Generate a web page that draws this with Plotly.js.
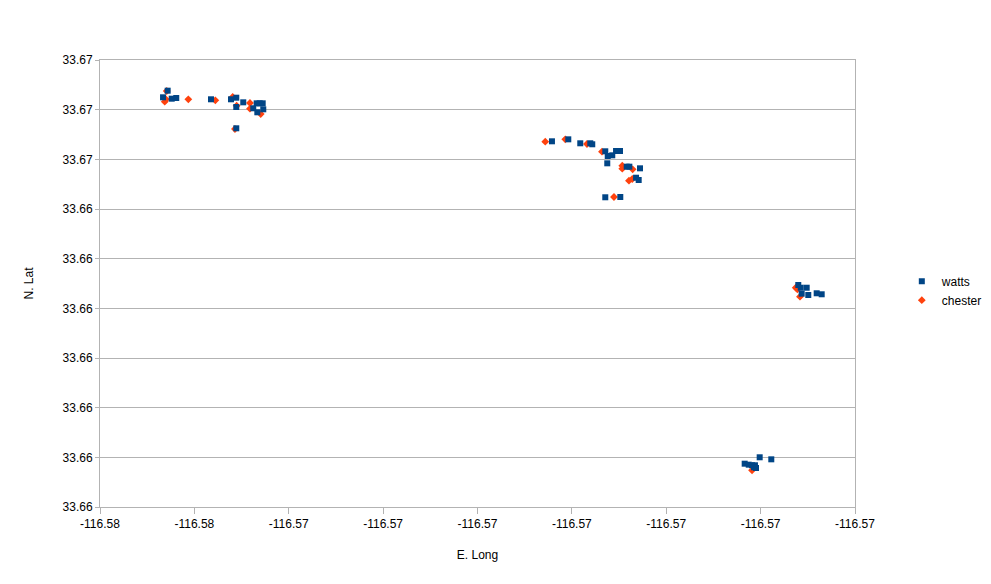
<!DOCTYPE html>
<html>
<head>
<meta charset="utf-8">
<script src="https://cdn.plot.ly/plotly-3.0.1.min.js"></script>
<style>html,body{margin:0;padding:0;background:#fff;}#chart{width:991px;height:584px;}</style>
</head>
<body>
<div id="chart"></div>
<script>
var seriesNames = ["watts", "chester"];

var wattsLong = [
  -116.575283, -116.575332, -116.575240, -116.575192, -116.574824, -116.574612,
  -116.574556, -116.574482, -116.574556, -116.574340, -116.574308, -116.574276,
  -116.574376, -116.574333, -116.574270, -116.574556,
  -116.571211, -116.571038, -116.570911, -116.570805, -116.570784, -116.570646,
  -116.570620, -116.570572, -116.570532, -116.570490, -116.570625, -116.570419,
  -116.570391, -116.570278, -116.570320, -116.570292, -116.570646, -116.570487,
  -116.568601, -116.568575, -116.568512, -116.568565, -116.568495, -116.568406,
  -116.568353,
  -116.569169, -116.569126, -116.569091, -116.569060, -116.569049, -116.569070,
  -116.569010, -116.568887
];
var wattsLat = [
  33.666382, 33.666249, 33.666221, 33.666235, 33.666209, 33.666209,
  33.666241, 33.666148, 33.666054, 33.666128, 33.666128, 33.666128,
  33.666028, 33.665947, 33.666007, 33.665625,
  33.665363, 33.665403, 33.665323, 33.665323, 33.665303, 33.665162,
  33.665067, 33.665081, 33.665168, 33.665168, 33.664920, 33.664852,
  33.664852, 33.664819, 33.664630, 33.664584, 33.664236, 33.664242,
  33.662470, 33.662415, 33.662415, 33.662295, 33.662268, 33.662303,
  33.662283,
  33.658872, 33.658852, 33.658840, 33.658840, 33.658785, 33.658799,
  33.659001, 33.658960
];

var chesterLong = [
  -116.575293, -116.575314, -116.575301, -116.575064, -116.574778, -116.574594,
  -116.574552, -116.574411, -116.574411, -116.574297, -116.574570,
  -116.571282, -116.571070, -116.570840, -116.570681, -116.570466, -116.570466,
  -116.570356, -116.570395, -116.570360, -116.570554,
  -116.568628, -116.568611, -116.568583,
  -116.569091
];
var chesterLat = [
  33.666376, 33.666160, 33.666209, 33.666209, 33.666189, 33.666255,
  33.666080, 33.666134, 33.666019, 33.665913, 33.665611,
  33.665355, 33.665403, 33.665309, 33.665154, 33.664872, 33.664811,
  33.664799, 33.664570, 33.664604, 33.664242,
  33.662415, 33.662383, 33.662234,
  33.658739
];

var xTickVals = [-116.576, -116.575, -116.574, -116.573, -116.572, -116.571, -116.570, -116.569, -116.568];
var xTickText = ["-116.58", "-116.58", "-116.57", "-116.57", "-116.57", "-116.57", "-116.57", "-116.57", "-116.57"];
var yTickVals = [33.658, 33.659, 33.660, 33.661, 33.662, 33.663, 33.664, 33.665, 33.666, 33.667];
var yTickText = ["33.66", "33.66", "33.66", "33.66", "33.66", "33.66", "33.66", "33.67", "33.67", "33.67"];

var traces = [
  {
    type: "scatter", mode: "markers", name: seriesNames[1],
    x: chesterLong, y: chesterLat,
    marker: {symbol: "diamond", size: 6, color: "#ff420e", line: {width: 0}}
  },
  {
    type: "scatter", mode: "markers", name: seriesNames[0],
    x: wattsLong, y: wattsLat,
    marker: {symbol: "square", size: 6, color: "#004586", line: {width: 0}}
  }
];

var axisFont = {family: "Liberation Sans, Arial, sans-serif", size: 12, color: "#000"};

var layout = {
  width: 991, height: 584,
  margin: {l: 100, r: 136, t: 60, b: 77, autoexpand: false},
  paper_bgcolor: "#fff", plot_bgcolor: "#fff",
  font: axisFont,
  showlegend: true,
  legend: {
    x: 1.062, xanchor: "left", y: 0.484, yanchor: "middle",
    traceorder: "reversed", itemwidth: 30,
    font: axisFont, bgcolor: "rgba(0,0,0,0)", tracegroupgap: 0
  },
  xaxis: {
    range: [-116.576, -116.568],
    tickvals: xTickVals, ticktext: xTickText,
    showgrid: false, zeroline: false,
    showline: true, mirror: true, linecolor: "#b3b3b3", linewidth: 1,
    ticks: "outside", ticklen: 6, tickcolor: "#b3b3b3",
    tickfont: axisFont, automargin: false,
    title: {text: "E. Long", font: axisFont, standoff: 20}
  },
  yaxis: {
    range: [33.658, 33.667],
    tickvals: yTickVals, ticktext: yTickText,
    showgrid: true, gridcolor: "#b3b3b3", gridwidth: 1, zeroline: false,
    showline: true, mirror: true, linecolor: "#b3b3b3", linewidth: 1,
    ticks: "outside", ticklen: 4, tickcolor: "#b3b3b3",
    tickfont: axisFont, automargin: false,
    title: {text: "N. Lat", font: axisFont, standoff: 26}
  }
};

Plotly.newPlot("chart", traces, layout, {staticPlot: true, displayModeBar: false});
</script>
</body>
</html>
